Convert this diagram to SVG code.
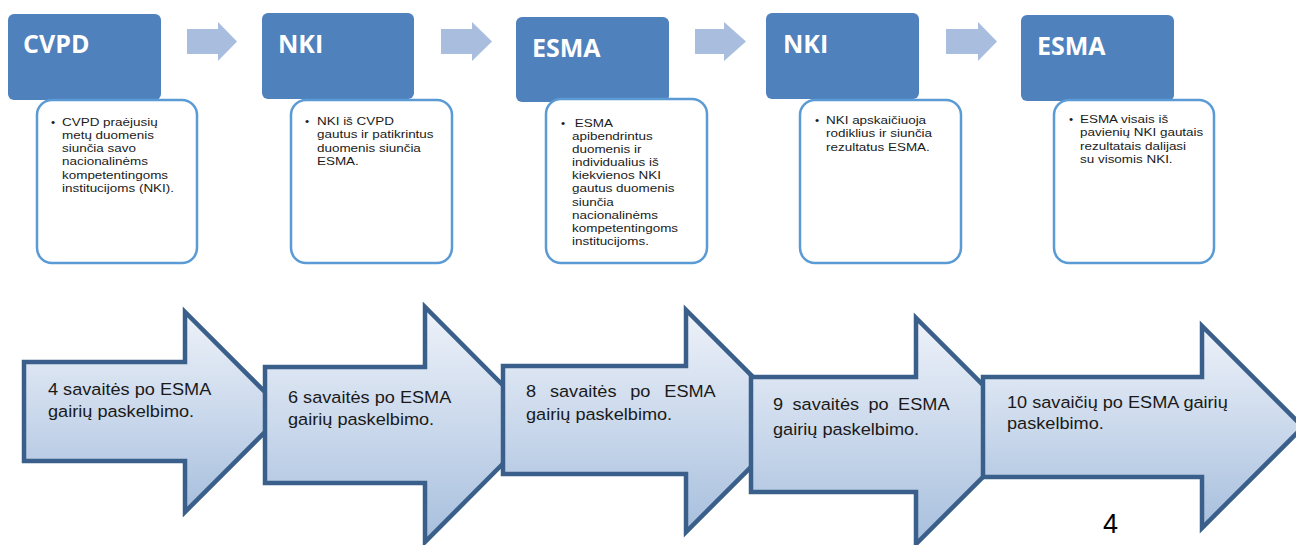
<svg xmlns="http://www.w3.org/2000/svg" width="1296" height="545" viewBox="0 0 1296 545">
<defs>
<linearGradient id="ag" x1="0" y1="0" x2="0" y2="1">
<stop offset="0" stop-color="#EEF2F9"/>
<stop offset="0.5" stop-color="#CBD9EC"/>
<stop offset="1" stop-color="#A7BFDD"/>
</linearGradient>
<style>
.hb{fill:#4F81BD;}
.ht{font-family:"Open Sans",sans-serif;font-weight:bold;font-size:25px;fill:#FFFFFF;}
.wb{fill:#FFFFFF;stroke:#5B9BD5;stroke-width:2.5;}
.bt{font-family:"Liberation Sans",Arial,sans-serif;font-size:11.8px;fill:#1A1A1A;}
.sa{fill:#A9BDDF;}
.ba{fill:url(#ag);stroke:#3A5F8B;stroke-width:4.5;stroke-linejoin:miter;}
.lt{font-family:"Liberation Sans",Arial,sans-serif;font-size:16.5px;fill:#1A1A1A;}
</style>
</defs>
<rect width="1296" height="545" fill="#FFFFFF"/>

<g id="connectors">
<path class="sa" d="M187,29 H218 V22 L237,41.5 L218,61 V54 H187 Z"/>
<path class="sa" d="M441,29 H472 V22 L492,41.5 L472,61 V54 H441 Z"/>
<path class="sa" d="M695,29 H724 V22 L746,41.5 L724,61 V54 H695 Z"/>
<path class="sa" d="M946,29 H978 V22 L997,41.5 L978,61 V54 H946 Z"/>
</g>

<g id="node-cvpd">
<rect class="hb" x="8" y="14" width="153" height="86" rx="6"/>
<text class="ht" x="23" y="53">CVPD</text>
<rect class="wb" x="37" y="100" width="160" height="163" rx="15"/>
<text class="bt" x="51" y="125.5">•</text>
<text class="bt" transform="translate(62,125.5) scale(1.14,1)"><tspan x="0" y="0">CVPD praėjusių</tspan><tspan x="0" y="13.3">metų duomenis</tspan><tspan x="0" y="26.6">siunčia savo</tspan><tspan x="0" y="39.9">nacionalinėms</tspan><tspan x="0" y="53.2">kompetentingoms</tspan><tspan x="0" y="66.5">institucijoms (NKI).</tspan></text>
</g>

<g id="node-nki-1">
<rect class="hb" x="262" y="13" width="152" height="86" rx="6"/>
<text class="ht" x="278" y="53">NKI</text>
<rect class="wb" x="291" y="100" width="161" height="163" rx="15"/>
<text class="bt" x="305" y="125">•</text>
<text class="bt" transform="translate(317,125) scale(1.14,1)"><tspan x="0" y="0">NKI iš CVPD</tspan><tspan x="0" y="13.3">gautus ir patikrintus</tspan><tspan x="0" y="26.6">duomenis siunčia</tspan><tspan x="0" y="39.9">ESMA.</tspan></text>
</g>

<g id="node-esma-1">
<rect class="hb" x="516" y="17" width="153" height="85" rx="6"/>
<text class="ht" x="532" y="57">ESMA</text>
<rect class="wb" x="546" y="99" width="161" height="164" rx="15"/>
<text class="bt" x="561" y="126.5">•</text>
<text class="bt" transform="translate(572,126.5) scale(1.14,1)"><tspan x="2.5" y="0">ESMA</tspan><tspan x="0" y="13.2">apibendrintus</tspan><tspan x="0" y="26.4">duomenis ir</tspan><tspan x="0" y="39.6">individualius iš</tspan><tspan x="0" y="52.8">kiekvienos NKI</tspan><tspan x="0" y="66">gautus duomenis</tspan><tspan x="0" y="79.2">siunčia</tspan><tspan x="0" y="92.4">nacionalinėms</tspan><tspan x="0" y="105.6">kompetentingoms</tspan><tspan x="0" y="118.8">institucijoms.</tspan></text>
</g>

<g id="node-nki-2">
<rect class="hb" x="766" y="13" width="153" height="86" rx="6"/>
<text class="ht" x="783" y="53">NKI</text>
<rect class="wb" x="800" y="100" width="161" height="163" rx="15"/>
<text class="bt" x="815" y="124">•</text>
<text class="bt" transform="translate(826,124) scale(1.14,1)"><tspan x="0" y="0">NKI apskaičiuoja</tspan><tspan x="0" y="13.3">rodiklius ir siunčia</tspan><tspan x="0" y="26.6">rezultatus ESMA.</tspan></text>
</g>

<g id="node-esma-2">
<rect class="hb" x="1021" y="15" width="153" height="86" rx="6"/>
<text class="ht" x="1037" y="55">ESMA</text>
<rect class="wb" x="1054" y="100" width="160" height="163" rx="15"/>
<text class="bt" x="1069" y="123">•</text>
<text class="bt" transform="translate(1080,123) scale(1.14,1)"><tspan x="0" y="0">ESMA visais iš</tspan><tspan x="0" y="13.3">pavienių NKI gautais</tspan><tspan x="0" y="26.6">rezultatais dalijasi</tspan><tspan x="0" y="39.9">su visomis NKI.</tspan></text>
</g>

<g id="step-4">
<path class="ba" d="M24,362 H185 V312 L285,412 L185,512 V461 H24 Z"/>
<text class="lt" transform="translate(48,395) scale(1.1,1)"><tspan x="0" y="0">4 savaitės po ESMA</tspan><tspan x="0" y="22">gairių paskelbimo.</tspan></text>
</g>

<g id="step-6">
<path class="ba" d="M265,367 H425 V307 L542,424.5 L425,542 V483 H265 Z"/>
<text class="lt" transform="translate(288,403) scale(1.1,1)"><tspan x="0" y="0">6 savaitės po ESMA</tspan><tspan x="0" y="22">gairių paskelbimo.</tspan></text>
</g>

<g id="step-8">
<path class="ba" d="M503,366 H686 V310 L797,421 L686,532 V474 H503 Z"/>
<text class="lt" transform="translate(526,397) scale(1.1,1)"><tspan x="0" y="0" word-spacing="8">8 savaitės po ESMA</tspan><tspan x="0" y="23">gairių paskelbimo.</tspan></text>
</g>

<g id="step-9">
<path class="ba" d="M751,377 H916 V318 L1029,431 L916,544 V492 H751 Z"/>
<text class="lt" transform="translate(773,410) scale(1.1,1)"><tspan x="0" y="0" word-spacing="4">9 savaitės po ESMA</tspan><tspan x="0" y="25">gairių paskelbimo.</tspan></text>
</g>

<g id="step-10">
<path class="ba" d="M983,377 H1202 V326 L1303,427 L1202,528 V477 H983 Z"/>
<text class="lt" transform="translate(1007,408) scale(1.1,1)"><tspan x="0" y="0">10 savaičių po ESMA gairių</tspan><tspan x="0" y="21">paskelbimo.</tspan></text>
</g>

<text id="page-number" x="1103" y="533" font-family="Liberation Sans, Arial, sans-serif" font-size="27" fill="#000000">4</text>
</svg>
